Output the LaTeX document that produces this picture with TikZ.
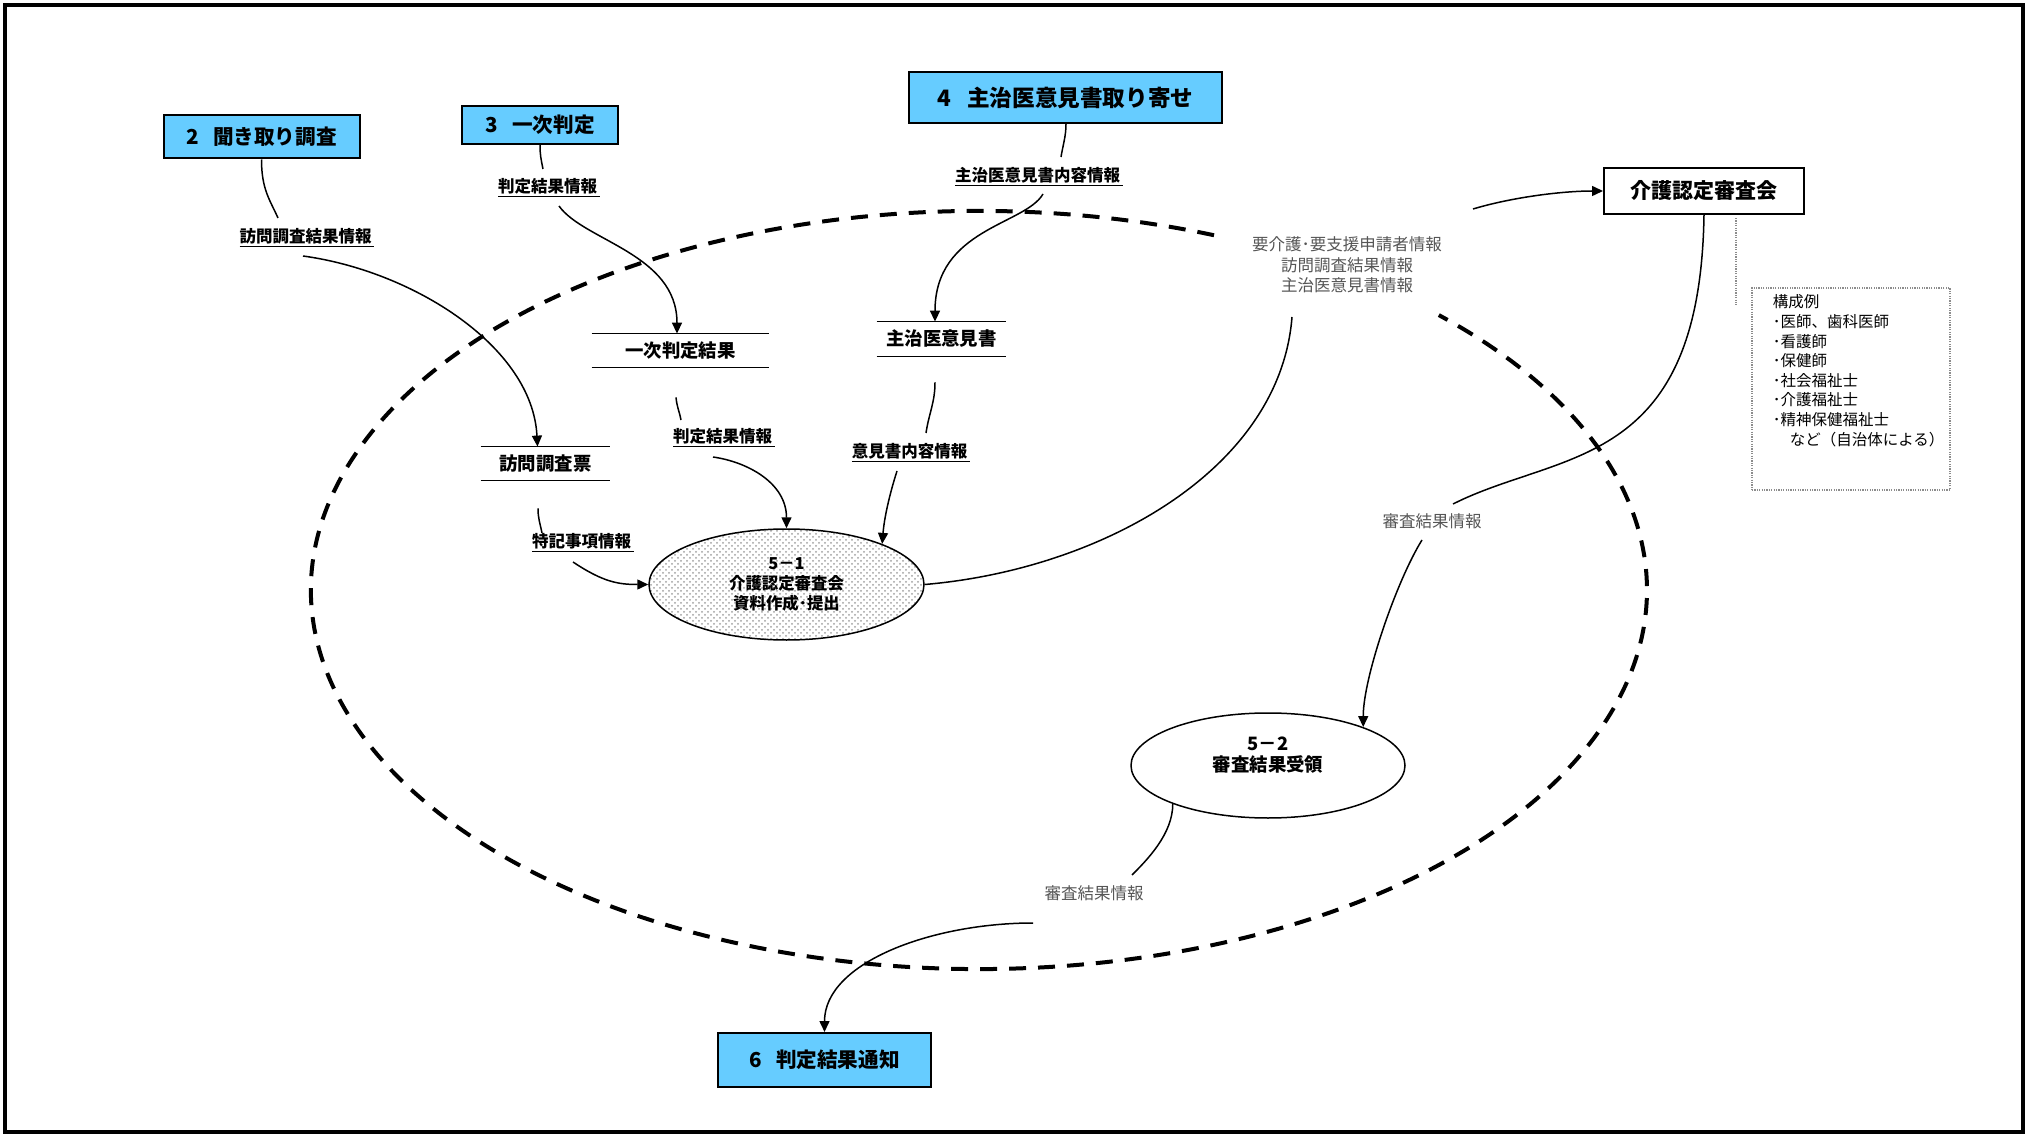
\documentclass[tikz,border=0pt]{standalone}
\usepackage{fontspec}
\setmainfont{Noto Sans CJK JP}
\usepackage{tikz}
\usetikzlibrary{arrows.meta,shapes.geometric,patterns,calc}
\definecolor{skyb}{RGB}{102,204,255}
\definecolor{grtx}{RGB}{85,85,85}

\tikzset{
  proc/.style={draw,line width=1pt,fill=skyb,inner sep=0pt,font=\fontsize{10.3pt}{12pt}\selectfont\bfseries},
  store/.style={inner sep=0pt,font=\fontsize{9.2pt}{11pt}\selectfont\bfseries},
  bubble/.style={ellipse,draw,line width=0.75pt,inner sep=0pt,align=center},
  flowlbl/.style={inner sep=1pt,font=\fontsize{8.25pt}{10pt}\selectfont\bfseries},
  graylbl/.style={inner sep=1pt,align=center,text=grtx,font=\fontsize{8.25pt}{10.3pt}\selectfont},
  notebox/.style={draw=gray!90,line width=0.6pt,dash pattern=on 0.6pt off 0.6pt},
  flow/.style={line width=0.75pt,-{Triangle[length=5.5pt,width=5pt]}},
  flowin/.style={line width=0.75pt}
}

\begin{document}
\begin{tikzpicture}[x=0.5pt,y=-0.5pt]
\useasboundingbox (0,0) rectangle (2026,1134);
\draw[line width=2pt] (5,5) rectangle (2023,1132);

\draw[line width=2pt,dash pattern=on 8.5pt off 6pt] (979,590) ++(69.4:334pt and 189.5pt)
  arc[start angle=69.4,end angle=406.5,x radius=334pt,y radius=189.5pt];

\node[proc,minimum width=98pt,minimum height=21.5pt] (kikitori) at (261.5,137) {2\hspace{0.7em}聞き取り調査};
\node[proc,minimum width=78pt,minimum height=19pt] (ichiji) at (540,125) {3\hspace{0.7em}一次判定};
\node[proc,minimum width=156.5pt,minimum height=25.5pt,font=\fontsize{11.3pt}{13pt}\selectfont\bfseries] (iken) at (1065.5,97.5) {4\hspace{0.7em}主治医意見書取り寄せ};
\node[proc,minimum width=106.5pt,minimum height=27pt] (tsuchi) at (824.5,1060) {6\hspace{0.7em}判定結果通知};
\node[proc,fill=white,minimum width=100pt,minimum height=23pt,font=\fontsize{10.5pt}{12pt}\selectfont\bfseries] (shinsakai) at (1704,191) {介護認定審査会};

\node[store,minimum width=64.5pt,minimum height=16.5pt] (hyo) at (545.5,463.5) {訪問調査票};
\node[store,minimum width=88.5pt,minimum height=16.5pt] (kekka) at (680.5,350.5) {一次判定結果};
\node[store,minimum width=64.5pt,minimum height=17pt] (ikensho) at (941.5,339) {主治医意見書};
\foreach \s in {hyo,kekka,ikensho}
  \draw[line width=0.75pt] (\s.north west) -- (\s.north east) (\s.south west) -- (\s.south east);

\node[bubble,minimum width=137.5pt,minimum height=55.5pt,pattern=crosshatch dots,pattern color=gray!75,
  font=\fontsize{8.2pt}{10.2pt}\selectfont\bfseries] (shiryo) at (786.5,584.5) {5－1\\介護認定審査会\\資料作成･提出};
\node[bubble,minimum width=137pt,minimum height=52.5pt] (juryo) at (1268,765.5) {};
\node[align=center,inner sep=0pt,font=\fontsize{9.2pt}{10.5pt}\selectfont\bfseries] (juryotxt)
  at ($(juryo)+(0,-10)$) {5－2\\審査結果受領};

\node[flowlbl] (lblhomon) at (307,238) {\underline{訪問調査結果情報\,}};
\node[flowlbl] (lblhante) at (549,188) {\underline{判定結果情報\,}};
\node[flowlbl] (lblikenin) at (1039,177) {\underline{主治医意見書内容情報\,}};
\node[flowlbl] (lblhante2) at (724,438) {\underline{判定結果情報\,}};
\node[flowlbl] (lblikenin2) at (911,453) {\underline{意見書内容情報\,}};
\node[flowlbl] (lbltokki) at (583,543) {\underline{特記事項情報\,}};
\node[graylbl] (lblshinsei) at (1347,265) {要介護･要支援申請者情報\\訪問調査結果情報\\主治医意見書情報};
\node[graylbl] (lblshinsa) at (1432,521) {審査結果情報};
\node[graylbl] (lbltsuchi) at (1094,893) {審査結果情報};

\node[notebox,minimum width=99pt,minimum height=101pt] (kosei) at (1851,389) {};
\node[anchor=north west,inner sep=0pt,align=left,font=\fontsize{7.75pt}{9.8pt}\selectfont] (koseitxt)
  at ($(kosei.north west)+(21,7)$) {構成例\\･医師、歯科医師\\･看護師\\･保健師\\･社会福祉士\\･介護福祉士\\･精神保健福祉士\\\hspace*{1.1em}など（自治体による）};
\coordinate (koseitop) at (1736,305);
\draw[notebox] ($(shinsakai.south -| koseitop)+(0,3)$) -- (koseitop);

\draw[flowin] (kikitori.south) .. controls +(0,30) and +(-8,-18) .. ($(lblhomon)+(-29,-20)$);
\draw[flow] ($(lblhomon)+(-4,18)$) .. controls +(110,15) and +(-5,-100) .. ($(hyo.north)+(-8,0)$);

\draw[flowin] (ichiji.south) .. controls +(0,10) and +(-2,-10) .. ($(lblhante)+(-6,-19)$);
\draw[flow] ($(lblhante)+(10,18)$) .. controls +(25,35) and +(0,-80) .. ($(kekka.north)+(-3.5,0)$);

\draw[flowin] ($(iken.south)+(0.5,0)$) .. controls +(0,12) and +(2,-12) .. ($(lblikenin)+(22,-20)$);
\draw[flow] ($(lblikenin)+(4,17)$) .. controls +(-18,31) and +(0,-93) .. ($(ikensho.north)+(-6.5,0)$);

\draw[flowin] ($(kekka.south)+(-4.5,30)$) .. controls +(1,10) and +(-2,-10) .. ($(lblhante2)+(-43,-18)$);
\draw[flow] ($(lblhante2)+(-11,19)$) .. controls +(35,5) and +(0,-45) .. (shiryo.north);

\draw[flowin] ($(ikensho.south)+(-6.5,26)$) .. controls +(0,20) and +(3,-20) .. ($(lblikenin2)+(15,-20)$);
\draw[flow] ($(lblikenin2)+(-14,18)$) .. controls +(-8,25) and +(2,-25) .. (shiryo.23);

\draw[flowin] ($(hyo.south)+(-7.5,28)$) .. controls +(0,10) and +(-2,-10) .. ($(lbltokki)+(-41,-10)$);
\draw[flow] ($(lbltokki)+(-10,19)$) .. controls +(30,20) and +(-30,0) .. (shiryo.west);

\draw[flowin] (shiryo.east) .. controls +(176,-15) and +(-12,153) .. ($(lblshinsei)+(-55,52)$);
\draw[flow] ($(lblshinsei)+(126,-56)$) .. controls +(40,-12) and +(-40,0) .. (shinsakai.west);

\draw[flowin] (shinsakai.south) .. controls +(-4,256) and +(107,-54) .. ($(lblshinsa)+(21,-17)$);
\draw[flow] ($(lblshinsa)+(-10,19)$) .. controls +(-25,40) and +(0,-50) .. (juryo.22);

\draw[flowin] (juryo.202) .. controls +(0,30) and +(15,-15) .. ($(lbltsuchi)+(38,-18)$);
\draw[flow] ($(lbltsuchi)+(-61,30)$) .. controls +(-100,0) and +(0,-70) .. (tsuchi.north);
\end{tikzpicture}
\end{document}
